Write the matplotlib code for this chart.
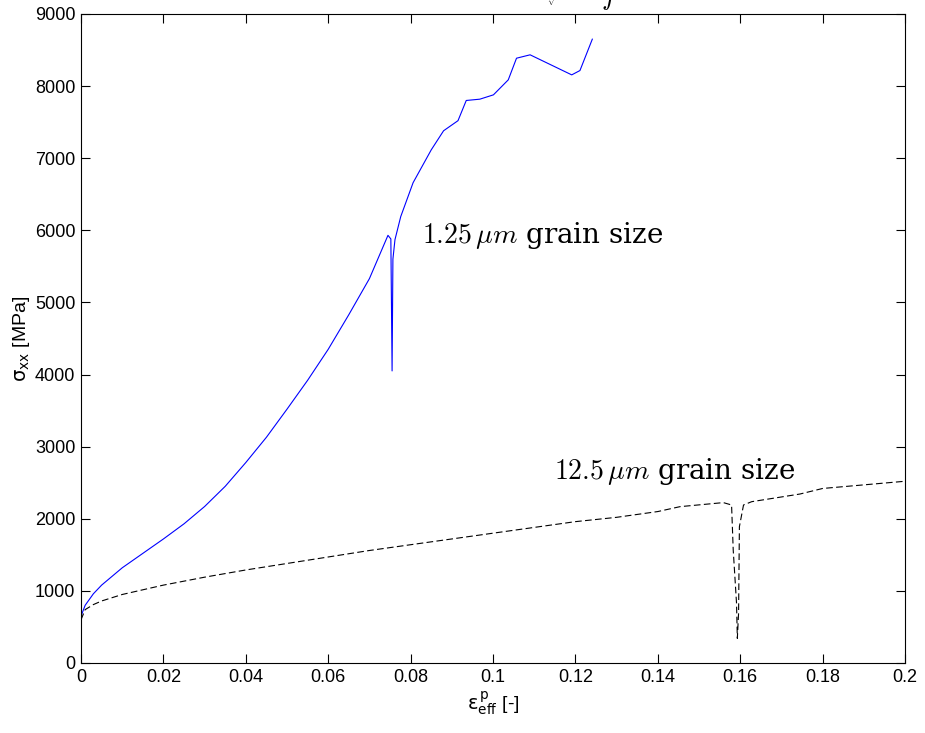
import matplotlib.pyplot as plt

plt.rcParams['font.family'] = ['Liberation Sans', 'DejaVu Sans']
plt.rcParams['mathtext.fontset'] = 'cm'

# 1.25 um grain size (blue)
strain_fine = [0.0, 0.001, 0.003, 0.005, 0.01, 0.015, 0.02, 0.025, 0.03, 0.035, 0.04,
               0.045, 0.05, 0.055, 0.06, 0.065, 0.07,
               0.0745, 0.0752, 0.0755, 0.0757, 0.0762, 0.0776, 0.0806, 0.085,
               0.088, 0.0915, 0.0935, 0.0968, 0.1001, 0.1037, 0.1057, 0.109,
               0.1191, 0.1211, 0.1241]
stress_fine = [650, 800, 960, 1080, 1320, 1520, 1720, 1930, 2170, 2450, 2780,
               3130, 3520, 3920, 4350, 4830, 5330,
               5930, 5880, 4050, 5600, 5870, 6190, 6660, 7115,
               7380, 7520, 7800, 7818, 7878, 8086, 8386, 8433,
               8155, 8215, 8650]

# 12.5 um grain size (black dashed)
strain_coarse = [0.0, 0.001, 0.003, 0.005, 0.01, 0.02, 0.03, 0.04, 0.05, 0.06, 0.07,
                 0.08, 0.09, 0.1, 0.11, 0.12, 0.13, 0.14, 0.1454, 0.1559, 0.1579,
                 0.1583, 0.1591, 0.1593, 0.1596, 0.1598, 0.1608, 0.1628, 0.1745,
                 0.18, 0.19, 0.2]
stress_coarse = [600, 740, 810, 860, 950, 1080, 1190, 1290, 1380, 1470, 1560,
                 1640, 1720, 1800, 1880, 1960, 2020, 2100, 2168, 2224, 2191,
                 1567, 832, 342, 690, 1890, 2191, 2237, 2343,
                 2420, 2470, 2520]

xticks = [0, 0.02, 0.04, 0.06, 0.08, 0.1, 0.12, 0.14, 0.16, 0.18, 0.2]
xticklabels = ['0', '0.02', '0.04', '0.06', '0.08', '0.1', '0.12', '0.14', '0.16', '0.18', '0.2']
yticks = [0, 1000, 2000, 3000, 4000, 5000, 6000, 7000, 8000, 9000]

fig = plt.figure(figsize=(9.25, 7.33), dpi=100)
ax = fig.add_axes([0.0876, 0.0955, 0.8908, 0.8855])

ax.plot(strain_fine, stress_fine, color='blue', linewidth=0.8)
ax.plot(strain_coarse, stress_coarse, color='black', linewidth=0.8, linestyle=(0, (6, 3)))

ax.set_xlim(0, 0.2)
ax.set_ylim(0, 9000)
ax.set_xticks(xticks)
ax.set_xticklabels(xticklabels)
ax.set_yticks(yticks)
ax.tick_params(direction='in', length=6.5, width=0.8, labelsize=13,
               top=True, right=True, pad=4)
for s in ax.spines.values():
    s.set_linewidth(0.8)

ax.set_xlabel(r'$\mathrm{\varepsilon^{\,p}_{eff}}$ [-]', fontsize=14, labelpad=3,
              math_fontfamily='dejavusans')
ax.set_ylabel(r'$\mathrm{\sigma_{xx}}$ [MPa]', fontsize=14, labelpad=2,
              math_fontfamily='dejavusans')

ax.text(0.0828, 5922, r'$1.25\,\mu m$ grain size', fontsize=20, va='center', ha='left',
        family='serif', math_fontfamily='cm')
ax.text(0.1148, 2649, r'$12.5\,\mu m$ grain size', fontsize=20, va='center', ha='left',
        family='serif', math_fontfamily='cm')

# title mostly cut off by the top edge
fig.text(0.630, 0.993, r'$\sqrt{\;\;\;}\;\;\;f$', fontsize=20, ha='center', va='baseline')

fig.savefig('out.png', dpi=100)
